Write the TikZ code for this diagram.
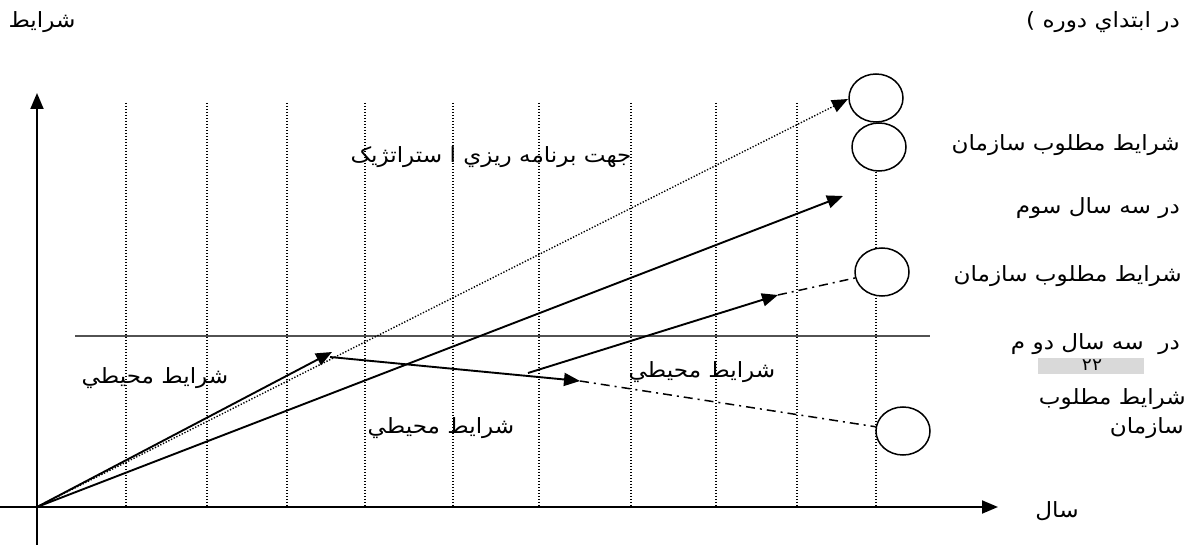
\documentclass[tikz,border=0pt]{standalone}
\usepackage{fontspec}
\usetikzlibrary{arrows.meta,shapes.geometric}
\TeXXeTstate=1
\newfontfamily\arabicfont[Script=Arabic,FakeStretch=1.1]{DejaVu Sans}
\begin{document}
\begin{tikzpicture}[x=1pt,y=-1pt,
  axisline/.style={line width=1.9pt,-{Triangle[length=16pt,width=13pt]}},
  gridline/.style={line width=1.3pt,dash pattern=on 1.3pt off 1.7pt},
  goal/.style={ellipse,draw,line width=1.5pt,fill=white,minimum width=54pt,minimum height=48pt,inner sep=0pt},
  solidarrow/.style={line width=1.9pt,-{Triangle[length=16pt,width=13pt]}},
  dotarrow/.style={line width=1.4pt,dash pattern=on 1.3pt off 1.7pt,-{Triangle[length=16pt,width=13pt]}},
  dashdot/.style={line width=1.5pt,dash pattern=on 9pt off 5pt on 2pt off 5pt},
  lbl/.style={font=\arabicfont\fontsize{21}{25}\selectfont,inner sep=0pt},
  rlbl/.style={lbl,anchor=east},
  shade/.style={fill=black!15,draw=none,minimum width=106pt,minimum height=16pt,inner sep=0pt}
]
\useasboundingbox (0,0) rectangle (1189,545);

% grid lines
\foreach \gx in {126,207,287,365,453,539,631,716,797,876}
  \draw[gridline] (\gx,103) -- (\gx,507);

% gray horizontal line
\draw[line width=1.6pt,black!68] (75,336) -- (930,336);

% axes
\coordinate (O) at (37,507);
\coordinate (ybot) at (37,545);
\coordinate (ytop) at (37,93);
\coordinate (xleft) at (0,507);
\coordinate (xright) at (998,507);
\draw[axisline] (ybot) -- (ytop);
\draw[axisline] (xleft) -- (xright);

% goal circles
\node[goal] (c1) at (876,98) {};
\node[goal] (c2) at (879,147) {};
\node[goal] (c3) at (882,272) {};
\node[goal] (c4) at (903,431) {};

% points
\coordinate (t1) at (848,99);
\coordinate (t2) at (843,196);
\coordinate (e1) at (332,352);
\coordinate (p1) at (330,357);
\coordinate (p2) at (580,381);
\coordinate (q1) at (528,373);
\coordinate (q2) at (778,295);

% arrows
\draw[dotarrow] (O) -- (t1);
\draw[solidarrow] (O) -- (t2);
\draw[solidarrow] (O) -- (e1);
\draw[solidarrow] (p1) -- (p2);
\draw[dashdot] (p2) -- (c4);
\draw[solidarrow] (q1) -- (q2);
\draw[dashdot] (q2) -- (c3);

% labels
\node[lbl] (ylab) at (42,22) {\beginR شرايط\endR};
\node[rlbl] (top) at (1180,22) {) \beginR در ابتداي دوره\endR};
\node[lbl] (strat) at (491,157) {\beginR جهت برنامه ريزي ا ستراتژيک\endR};
\node[lbl] (env1) at (155,378) {\beginR شرايط محيطي\endR};
\node[lbl] (env2) at (441,428) {\beginR شرايط محيطي\endR};
\node[lbl] (env3) at (702,372) {\beginR شرايط محيطي\endR};

\node[rlbl] (r1) at (1180,145) {\beginR شرايط مطلوب سازمان\endR};
\node[rlbl] (r2) at (1180,208) {\beginR در سه سال سوم\endR};
\node[rlbl] (r3) at (1182,276) {\beginR شرايط مطلوب سازمان\endR};
\node[rlbl] (r4) at (1180,344) {\beginR در~ سه سال دو م\endR};
\node[shade] (box) at (1091,366) {};
\node[lbl,font=\arabicfont\fontsize{17}{19}\selectfont] (num) at (1092,365) {\beginR ٢٢\endR};
\node[rlbl] (r5) at (1186,399) {\beginR شرايط مطلوب\endR};
\node[rlbl] (r6) at (1184,428) {\beginR سازمان\endR};
\node[lbl] (xlab) at (1057,511) {\beginR سال\endR};
\end{tikzpicture}
\end{document}
